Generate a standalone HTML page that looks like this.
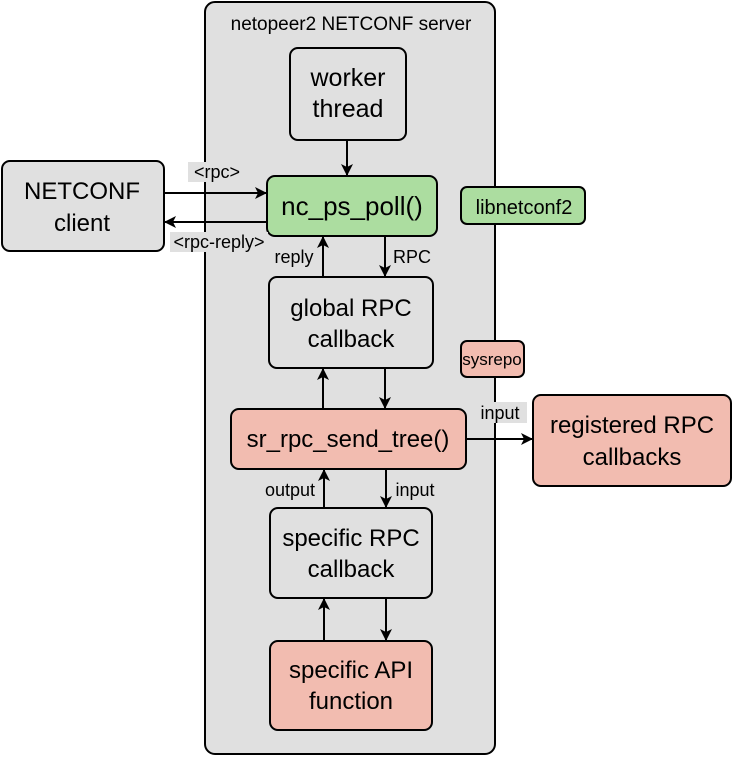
<!DOCTYPE html>
<html><head><meta charset="utf-8"><style>
html,body{margin:0;padding:0;background:#fff;}
svg{display:block;font-family:"Liberation Sans",sans-serif;}
</style></head><body>
<svg width="732" height="757" viewBox="0 0 732 757" xmlns="http://www.w3.org/2000/svg">
<defs>
<marker id="a" markerWidth="12" markerHeight="12" refX="11" refY="6" orient="auto" markerUnits="userSpaceOnUse">
<path d="M0,0 L12,6 L0,12 L3,6 z" fill="#000"/>
</marker>
</defs>
<g stroke="#000" stroke-width="2">
<rect x="205" y="2" width="290" height="752" rx="10" fill="#e0e0e0"/>
<rect x="290" y="48" width="116" height="92" rx="8" fill="#e0e0e0"/>
<rect x="2" y="161" width="162" height="90" rx="8" fill="#e0e0e0"/>
<rect x="267" y="176" width="170" height="60" rx="8" fill="#acdda0"/>
<rect x="461" y="187" width="124" height="37" rx="6" fill="#acdda0"/>
<rect x="269" y="277" width="164" height="91" rx="8" fill="#e0e0e0"/>
<rect x="461" y="341" width="63" height="36" rx="6" fill="#f2bcb0"/>
<rect x="231" y="409" width="235" height="60" rx="8" fill="#f2bcb0"/>
<rect x="533" y="395" width="198" height="91" rx="8" fill="#f2bcb0"/>
<rect x="270" y="508" width="162" height="90" rx="8" fill="#e0e0e0"/>
<rect x="270" y="641" width="162" height="89" rx="8" fill="#f2bcb0"/>
</g>
<g fill="#e0e0e0">
<rect x="188" y="162" width="56" height="20"/>
<rect x="170" y="232" width="98" height="20"/>
<rect x="473" y="402" width="54" height="21"/>
</g>
<g stroke="#000" stroke-width="2" fill="none" marker-end="url(#a)">
<line x1="347" y1="140" x2="347" y2="175"/>
<line x1="164" y1="193" x2="266" y2="193"/>
<line x1="267" y1="222" x2="165" y2="222"/>
<line x1="323" y1="277" x2="323" y2="237"/>
<line x1="385" y1="236" x2="385" y2="276"/>
<line x1="323" y1="409" x2="323" y2="369"/>
<line x1="385" y1="368" x2="385" y2="408"/>
<line x1="466" y1="439" x2="532" y2="439"/>
<line x1="324" y1="508" x2="324" y2="470"/>
<line x1="386" y1="469" x2="386" y2="507"/>
<line x1="324" y1="641" x2="324" y2="599"/>
<line x1="386" y1="598" x2="386" y2="640"/>
</g>
<g fill="#000" text-anchor="middle">
<text x="351" y="30" font-size="19">netopeer2 NETCONF server</text>
<text x="348" y="86" font-size="25">worker</text>
<text x="348" y="117" font-size="25">thread</text>
<text x="82" y="199" font-size="24">NETCONF</text>
<text x="82" y="231" font-size="24">client</text>
<text x="352" y="215" font-size="26">nc_ps_poll()</text>
<text x="524" y="214" font-size="20">libnetconf2</text>
<text x="492" y="365" font-size="17">sysrepo</text>
<text x="351" y="316" font-size="24">global RPC</text>
<text x="351" y="347" font-size="24">callback</text>
<text x="348" y="447" font-size="24">sr_rpc_send_tree()</text>
<text x="632" y="433" font-size="24">registered RPC</text>
<text x="632" y="465" font-size="24">callbacks</text>
<text x="351" y="546" font-size="24">specific RPC</text>
<text x="351" y="577" font-size="24">callback</text>
<text x="351" y="678" font-size="24">specific API</text>
<text x="351" y="709" font-size="24">function</text>
<text x="217" y="178" font-size="18">&lt;rpc&gt;</text>
<text x="219" y="248" font-size="18">&lt;rpc-reply&gt;</text>
<text x="294" y="263" font-size="18">reply</text>
<text x="412" y="263" font-size="18">RPC</text>
<text x="500" y="419" font-size="18">input</text>
<text x="290" y="496" font-size="18">output</text>
<text x="415" y="496" font-size="18">input</text>
</g>
</svg>
</body></html>
